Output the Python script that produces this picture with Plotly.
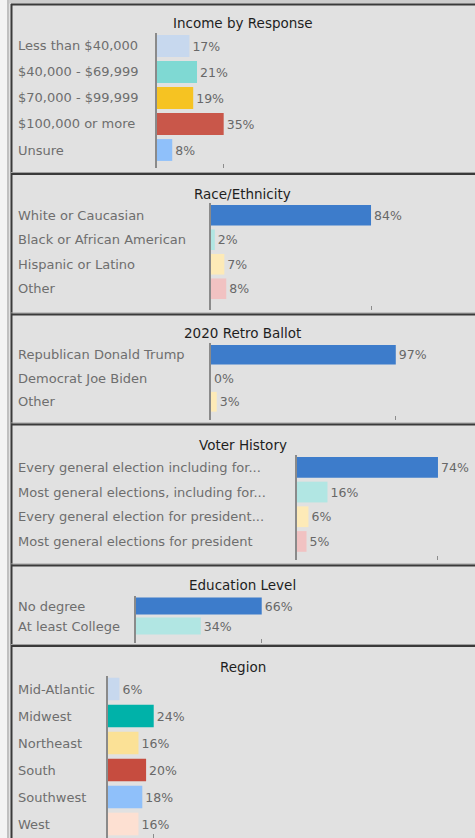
import plotly.graph_objects as go

W, H = 475, 838

# values (percent of respondents)
income_labels = ["Less than $40,000", "$40,000 - $69,999", "$70,000 - $99,999",
                 "$100,000 or more", "Unsure"]
income_values = [17, 21, 19, 35, 8]
income_colors = ["#c7d8ee", "#7fd9d3", "#f6c322", "#c9574a", "#8fc0fa"]

race_labels = ["White or Caucasian", "Black or African American",
               "Hispanic or Latino", "Other"]
race_values = [84, 2, 7, 8]
race_colors = ["#3d7ccb", "#b1e6e3", "#fdeab7", "#f1c2c2"]

ballot_labels = ["Republican Donald Trump", "Democrat Joe Biden", "Other"]
ballot_values = [97, 0, 3]
ballot_colors = ["#3d7ccb", "#b1e6e3", "#fdeab7"]

history_labels = ["Every general election including for...",
                  "Most general elections, including for...",
                  "Every general election for president...",
                  "Most general elections for president"]
history_values = [74, 16, 6, 5]
history_colors = ["#3d7ccb", "#b1e6e3", "#fdeab7", "#f1c2c2"]

edu_labels = ["No degree", "At least College"]
edu_values = [66, 34]
edu_colors = ["#3d7ccb", "#b1e6e3"]

region_labels = ["Mid-Atlantic", "Midwest", "Northeast", "South", "Southwest", "West"]
region_values = [6, 24, 16, 20, 18, 16]
region_colors = ["#c7d8ee", "#00b2a9", "#fbe196", "#c64c3f", "#8fc0fa", "#fde0d2"]

# panel layout in pixels: axis x, pane top, row pitch, pane bottom, title y
panels = [
    ("Income by Response", income_labels, income_values, income_colors, 157, 33, 26.0, 168, 23),
    ("Race/Ethnicity", race_labels, race_values, race_colors, 211, 203, 24.5, 310, 194),
    ("2020 Retro Ballot", ballot_labels, ballot_values, ballot_colors, 211, 343, 23.5, 420, 333),
    ("Voter History", history_labels, history_values, history_colors, 297, 455, 24.7, 560, 445),
    ("Education Level", edu_labels, edu_values, edu_colors, 136, 596, 20.0, 643, 585),
    ("Region", region_labels, region_values, region_colors, 108, 675.5, 27.0, 838, 667),
]
separators = [174, 314.5, 424.5, 565.5, 646]

PX_PER_PCT = 1.905
FONT = "DejaVu Sans"


def px_x(x):
    return x / W


def px_y(y):
    return 1 - y / H


fig = go.Figure()
annotations = []
layout = {}

for i, (title, labels, values, colors, ax_x, top, pitch, bottom, title_y) in enumerate(panels, start=1):
    xa, ya = f"x{i}", f"y{i}"
    fig.add_trace(go.Bar(
        x=values, y=labels, orientation="h",
        marker=dict(color=colors, line=dict(width=0)),
        width=0.84,
        text=[f"{v}%" for v in values],
        textposition="outside", cliponaxis=False, constraintext="none",
        textfont=dict(family=FONT, size=12.5, color="#686868"),
        xaxis=xa, yaxis=ya, showlegend=False, hoverinfo="skip",
    ))
    layout[f"xaxis{i}"] = dict(
        domain=[px_x(ax_x), 1], range=[0, (W - ax_x) / PX_PER_PCT], anchor=ya,
        showgrid=False, zeroline=False, showline=False,
        tickvals=[max(values)], ticks="inside", ticklen=4, tickwidth=1,
        tickcolor="#8c8c8c", showticklabels=False, fixedrange=True,
    )
    layout[f"yaxis{i}"] = dict(
        domain=[px_y(bottom), px_y(top)], anchor=xa,
        type="category", categoryorder="array", categoryarray=labels,
        range=[(bottom - top) / pitch - 0.5, -0.5],
        showgrid=False, zeroline=False, showline=True,
        linecolor="#8a8a8a", linewidth=1.5, showticklabels=False, ticks="",
        fixedrange=True,
    )
    annotations.append(dict(
        text=title, xref="paper", yref="paper", x=px_x(243), y=px_y(title_y),
        xanchor="center", yanchor="middle", showarrow=False,
        font=dict(family=FONT, size=13.5, color="#1e1e1e"),
    ))
    for lab in labels:
        annotations.append(dict(
            text=lab, xref="paper", yref=ya, x=px_x(16), y=lab,
            xanchor="left", yanchor="middle", showarrow=False,
            font=dict(family=FONT, size=13, color="#6e6e6e"),
        ))

shapes = [
    # pale strip on the far left and the frame
    dict(type="rect", xref="paper", yref="paper", x0=0, x1=px_x(7), y0=0, y1=1,
         fillcolor="#f3f3f3", line=dict(width=0), layer="below"),
    dict(type="line", xref="paper", yref="paper", x0=px_x(8), x1=px_x(8), y0=0, y1=1,
         line=dict(color="#b4b4b4", width=1.5)),
    dict(type="rect", xref="paper", yref="paper", x0=px_x(9), x1=1, y0=px_y(3.5), y1=1,
         fillcolor="#cdcdcd", line=dict(width=0), layer="below"),
    dict(type="line", xref="paper", yref="paper", x0=px_x(11), x1=1, y0=px_y(4.5), y1=px_y(4.5),
         line=dict(color="#3a3a3a", width=2)),
    dict(type="line", xref="paper", yref="paper", x0=px_x(11.5), x1=px_x(11.5), y0=0, y1=px_y(4),
         line=dict(color="#3a3a3a", width=2)),
]
for s in separators:
    shapes.append(dict(type="line", xref="paper", yref="paper", x0=px_x(11), x1=1,
                       y0=px_y(s - 1.5), y1=px_y(s - 1.5), line=dict(color="#a0a0a0", width=1)))
    shapes.append(dict(type="line", xref="paper", yref="paper", x0=px_x(11), x1=1,
                       y0=px_y(s), y1=px_y(s), line=dict(color="#3a3a3a", width=2)))

fig.update_layout(
    width=W, height=H, margin=dict(l=0, r=0, t=0, b=0),
    paper_bgcolor="#e1e1e1", plot_bgcolor="rgba(0,0,0,0)",
    font=dict(family=FONT, size=13, color="#666666"),
    annotations=annotations, shapes=shapes, **layout,
)

# drop the page's default body margin so the figure sits at 0,0
fig.write_html(
    "out.html",
    config={"displayModeBar": False},
    post_script="document.body.style.margin='0';document.body.style.overflow='hidden';",
)
